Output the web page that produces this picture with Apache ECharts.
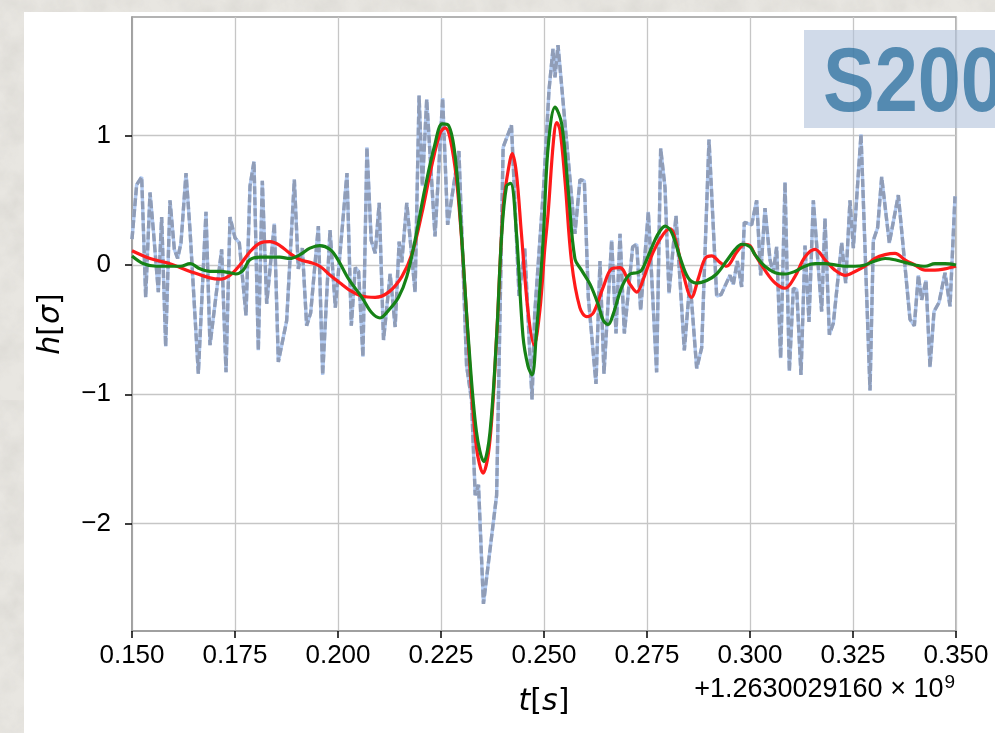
<!DOCTYPE html>
<html>
<head>
<meta charset="utf-8">
<script src="https://cdn.jsdelivr.net/npm/echarts@6/dist/echarts.min.js"></script>
<style>
html,body{margin:0;padding:0;width:995px;height:733px;overflow:hidden;}
body{background-color:#e8e6e1;
background-image:url("data:image/svg+xml;utf8,<svg xmlns='http://www.w3.org/2000/svg' width='400' height='400'><filter id='n'><feTurbulence type='fractalNoise' baseFrequency='0.035' numOctaves='4' seed='7'/><feColorMatrix values='0 0 0 0 0.45  0 0 0 0 0.44  0 0 0 0 0.41  0.4 0 0 0 -0.14'/></filter><rect width='100%' height='100%' filter='url(%23n)'/></svg>");}
#panel{position:absolute;left:24px;top:12px;width:971px;height:721px;background:#fff;}
#chart{position:absolute;left:0;top:0;width:995px;height:733px;}
</style>
</head>
<body>
<div id="panel"></div>
<div id="chart"></div>
<script>
// ---- data ----
const xTicks = [0.150, 0.175, 0.200, 0.225, 0.250, 0.275, 0.300, 0.325, 0.350];
const yTicks = [-2, -1, 0, 1];
const offsetText = '+1.2630029160 \u00d7 10';
const offsetExp = '9';
const eventName = 'S200114f';

// whitened strain (noisy data)
const noiseT = [0.15000,0.15113,0.15235,0.15332,0.15437,0.15518,0.15639,0.15720,0.15817,0.15922,
0.16028,0.16108,0.16189,0.16311,0.16408,0.16610,0.16796,0.16893,0.17176,0.17282,
0.17379,0.17500,0.17605,0.17767,0.17864,0.17961,0.18066,0.18163,0.18269,0.18455,
0.18552,0.18754,0.18940,0.19037,0.19134,0.19239,0.19337,0.19523,0.19628,0.19806,
0.19935,0.20218,0.20323,0.20419,0.20500,0.20605,0.20702,0.20806,0.20903,0.21000,
0.21105,0.21266,0.21387,0.21484,0.21548,0.21669,0.21871,0.21968,0.22048,0.22153,
0.22355,0.22540,0.22661,0.22935,0.23121,0.23240,0.23330,0.23410,0.23530,0.23850,
0.24008,0.24210,0.24395,0.24532,0.24710,0.24774,0.24992,0.25121,0.25218,0.25267,
0.25340,0.25750,0.25874,0.25979,0.26076,0.26262,0.26359,0.26456,0.26642,0.26748,
0.26845,0.26950,0.27152,0.27249,0.27346,0.27532,0.27734,0.27832,0.27937,0.28034,
0.28204,0.28406,0.28544,0.28706,0.28827,0.29005,0.29191,0.29296,0.29514,0.29595,
0.29692,0.29797,0.29862,0.30040,0.30162,0.30259,0.30364,0.30485,0.30566,0.30647,
0.30744,0.30850,0.30955,0.31052,0.31133,0.31238,0.31335,0.31432,0.31537,0.31739,
0.31820,0.31926,0.32023,0.32225,0.32322,0.32427,0.32508,0.32694,0.32913,0.32994,
0.33099,0.33196,0.33382,0.33600,0.33883,0.33989,0.34086,0.34167,0.34272,0.34369,
0.34466,0.34588,0.34733,0.34855,0.34976];
const noiseH = [0.20,0.62,0.68,-0.25,0.56,0.27,-0.21,0.37,-0.63,0.50,
0.12,0.05,0.17,0.71,0.27,-0.84,0.41,-0.62,0.12,-0.83,
0.37,0.21,0.17,-0.39,0.61,0.80,-0.66,0.65,-0.30,0.32,
-0.75,-0.43,0.66,-0.03,0.13,-0.47,-0.37,0.30,-0.85,0.27,
-0.33,0.71,-0.47,-0.02,-0.05,-0.71,0.91,0.19,0.09,0.48,
-0.58,-0.07,-0.48,0.18,0.02,0.48,-0.21,1.31,0.61,1.28,
0.22,1.29,0.31,0.88,-0.78,-1.04,-1.78,-1.70,-2.62,-1.78,
0.91,1.08,-0.24,0.13,-1.04,-0.38,0.61,1.35,1.67,1.45,
1.70,0.24,0.66,0.65,-0.25,-0.92,0.03,-0.84,0.19,-0.53,
0.24,-0.53,0.14,0.16,-0.35,0.41,-0.83,0.90,0.60,-0.22,
0.38,-0.66,-0.12,-0.80,-0.64,0.97,-0.24,-0.23,-0.08,-0.15,
0.03,-0.17,0.33,0.31,0.50,-0.08,0.44,0.04,-0.06,0.14,
-0.72,0.64,-0.82,-0.18,-0.19,-0.85,0.15,-0.44,0.50,-0.36,
0.36,-0.54,-0.45,0.17,-0.14,0.50,0.13,1.01,-0.97,0.19,
0.29,0.68,0.17,0.54,-0.42,-0.47,-0.08,-0.27,-0.12,-0.79,
-0.36,-0.29,-0.06,-0.32,0.53];

// red reconstruction
const redT = [0.1500,0.1544,0.1592,0.1641,0.1689,0.1714,0.1738,0.1762,0.1786,0.1811,
0.1835,0.1859,0.1883,0.1908,0.1932,0.1956,0.1981,0.2005,0.2026,0.2058,
0.2090,0.2123,0.2155,0.2179,0.2203,0.2227,0.2248,0.2260,0.2272,0.2288,
0.2304,0.2320,0.2336,0.2352,0.2369,0.2385,0.2401,0.2413,0.2423,0.2433,
0.2445,0.2461,0.2476,0.2490,0.2502,0.2510,0.2523,0.2531,0.2539,0.2551,
0.2567,0.2587,0.2604,0.2620,0.2644,0.2664,0.2684,0.2709,0.2725,0.2741,
0.2765,0.2790,0.2806,0.2822,0.2838,0.2858,0.2875,0.2891,0.2907,0.2927,
0.2943,0.2968,0.2988,0.3000,0.3012,0.3036,0.3061,0.3085,0.3109,0.3133,
0.3158,0.3182,0.3206,0.3231,0.3255,0.3279,0.3303,0.3328,0.3352,0.3376,
0.3400,0.3425,0.3449,0.3473,0.3500];
const redH = [0.11,0.05,0.01,-0.05,-0.10,-0.11,-0.08,0.00,0.10,0.17,
0.18,0.15,0.09,0.04,0.02,-0.01,-0.08,-0.14,-0.19,-0.24,
-0.25,-0.21,-0.09,0.08,0.39,0.76,1.02,1.06,0.98,0.65,
0.02,-0.78,-1.41,-1.61,-1.35,-0.55,0.45,0.73,0.86,0.71,
0.25,-0.35,-0.62,-0.35,0.13,0.40,0.96,1.10,1.04,0.65,
0.02,-0.33,-0.40,-0.37,-0.17,-0.03,-0.02,-0.15,-0.21,-0.11,
0.10,0.24,0.28,0.16,-0.07,-0.25,-0.10,0.05,0.07,0.02,
-0.01,0.10,0.16,0.15,0.08,-0.04,-0.14,-0.18,-0.09,0.06,
0.12,0.04,-0.04,-0.08,-0.05,-0.01,0.05,0.08,0.09,0.04,
0.00,-0.04,-0.04,-0.03,-0.01];

// green reconstruction
const greenT = [0.1500,0.1528,0.1560,0.1592,0.1617,0.1641,0.1665,0.1689,0.1714,0.1738,
0.1752,0.1770,0.1786,0.1811,0.1835,0.1859,0.1883,0.1908,0.1932,0.1956,
0.1981,0.2000,0.2026,0.2058,0.2082,0.2102,0.2123,0.2147,0.2167,0.2187,
0.2211,0.2235,0.2253,0.2268,0.2284,0.2300,0.2316,0.2336,0.2354,0.2369,
0.2385,0.2397,0.2409,0.2419,0.2433,0.2449,0.2461,0.2471,0.2481,0.2498,
0.2510,0.2527,0.2543,0.2559,0.2575,0.2591,0.2612,0.2632,0.2644,0.2656,
0.2668,0.2689,0.2709,0.2725,0.2737,0.2757,0.2777,0.2794,0.2810,0.2830,
0.2850,0.2871,0.2895,0.2919,0.2943,0.2964,0.2980,0.3000,0.3012,0.3036,
0.3061,0.3085,0.3109,0.3133,0.3158,0.3182,0.3206,0.3231,0.3255,0.3279,
0.3303,0.3328,0.3352,0.3376,0.3400,0.3425,0.3449,0.3473,0.3500];
const greenH = [0.07,0.01,-0.01,-0.01,-0.01,0.01,-0.03,-0.05,-0.05,-0.06,
-0.07,-0.04,0.04,0.06,0.06,0.06,0.05,0.08,0.13,0.15,
0.12,0.04,-0.11,-0.25,-0.37,-0.41,-0.35,-0.25,-0.09,0.19,
0.59,0.93,1.09,1.08,0.85,0.22,-0.55,-1.29,-1.52,-1.29,
-0.55,0.22,0.61,0.63,0.25,-0.55,-0.78,-0.85,-0.55,0.20,
0.91,1.22,1.09,0.57,0.05,-0.04,-0.15,-0.31,-0.43,-0.46,
-0.38,-0.17,-0.07,-0.06,-0.04,0.10,0.24,0.30,0.25,0.06,
-0.10,-0.14,-0.12,-0.07,0.03,0.12,0.16,0.14,0.08,-0.01,
-0.06,-0.07,-0.05,-0.01,0.01,0.01,0.00,-0.01,-0.01,0.00,
0.03,0.05,0.04,0.02,0.00,-0.01,0.01,0.01,0.00];

const pair = (T, H) => T.map((t, i) => [t, H[i]]);
const minus = s => String(s).replace('-', '\u2212');

const chart = echarts.init(document.getElementById('chart'), null, {renderer: 'canvas'});
const labelFont = {fontFamily: 'Liberation Sans, Arial, sans-serif', fontSize: 26, color: '#000'};

chart.setOption({
  animation: false,
  backgroundColor: 'transparent',
  grid: {left: 132, right: 39, top: 17, bottom: 102, show: true, borderColor: '#9a9a9a', borderWidth: 1.5, backgroundColor: 'transparent'},
  xAxis: {
    type: 'value', min: 0.15, max: 0.35, interval: 0.025,
    axisLine: {show: true, onZero: false, lineStyle: {color: '#9a9a9a', width: 1.5}},
    axisTick: {show: true, inside: false, length: 7, lineStyle: {color: '#000', width: 1.5}},
    axisLabel: Object.assign({margin: 12, formatter: v => v.toFixed(3), showMinLabel: true, showMaxLabel: true}, labelFont),
    splitLine: {show: true, lineStyle: {color: '#c6c6c6', width: 1.3}},
    name: '{i|t}{n|[}{i|s}{n|]}', nameLocation: 'middle', nameGap: 56,
    nameTextStyle: {rich: {
      i: {fontFamily: 'DejaVu Sans', fontStyle: 'italic', fontSize: 30, color: '#000'},
      n: {fontFamily: 'DejaVu Sans', fontSize: 30, color: '#000'}
    }}
  },
  yAxis: {
    type: 'value', min: -2.83, max: 1.917,
    axisLine: {show: true, onZero: false, lineStyle: {color: '#9a9a9a', width: 1.5}},
    axisTick: {show: true, inside: false, length: 7, lineStyle: {color: '#000', width: 1.5}, customValues: yTicks},
    axisLabel: Object.assign({margin: 21, customValues: yTicks, formatter: v => minus(v)}, labelFont),
    splitLine: {show: true, lineStyle: {color: '#c6c6c6', width: 1.3}},
    name: '{i|h}{n|[}{i|\u03c3}{n|]}', nameLocation: 'middle', nameGap: 66, nameRotate: 90,
    nameTextStyle: {rich: {
      i: {fontFamily: 'DejaVu Sans', fontStyle: 'italic', fontSize: 30, color: '#000'},
      n: {fontFamily: 'DejaVu Sans', fontSize: 30, color: '#000'}
    }}
  },
  series: [
    {type: 'line', data: pair(noiseT, noiseH), showSymbol: false, z: 2,
     lineStyle: {color: '#b3ccf4', width: 3.4}},
    {type: 'line', data: pair(noiseT, noiseH), showSymbol: false, z: 3,
     lineStyle: {color: '#909db7', width: 3.4, type: [8, 3]}},
    {type: 'line', data: pair(redT, redH), showSymbol: false, smooth: 0.35, z: 4,
     lineStyle: {color: '#ff1a1a', width: 3.2}},
    {type: 'line', data: pair(greenT, greenH), showSymbol: false, smooth: 0.35, z: 5,
     lineStyle: {color: '#168216', width: 3.2}}
  ],
  graphic: [
    {type: 'text', right: 40, top: 673, z: 50,
     style: {text: '{a|' + offsetText + '}{s|' + offsetExp + '}',
       rich: {a: {fontFamily: 'Liberation Sans, Arial, sans-serif', fontSize: 27, color: '#000'},
              s: {fontFamily: 'Liberation Sans, Arial, sans-serif', fontSize: 19, color: '#000', padding: [0, 0, 15, 1]}}}},
    {type: 'rect', z: 100, shape: {x: 804, y: 30, width: 260, height: 98},
     style: {fill: 'rgba(176,194,218,0.6)'}},
    {type: 'text', z: 101, x: 823, y: 86, scaleX: 0.86,
     style: {text: eventName, fontFamily: 'Liberation Sans, Arial, sans-serif', fontWeight: 'bold', fontSize: 90,
       fill: 'rgba(43,111,157,0.75)', textAlign: 'left', textVerticalAlign: 'middle'}}
  ]
});
</script>
</body>
</html>
